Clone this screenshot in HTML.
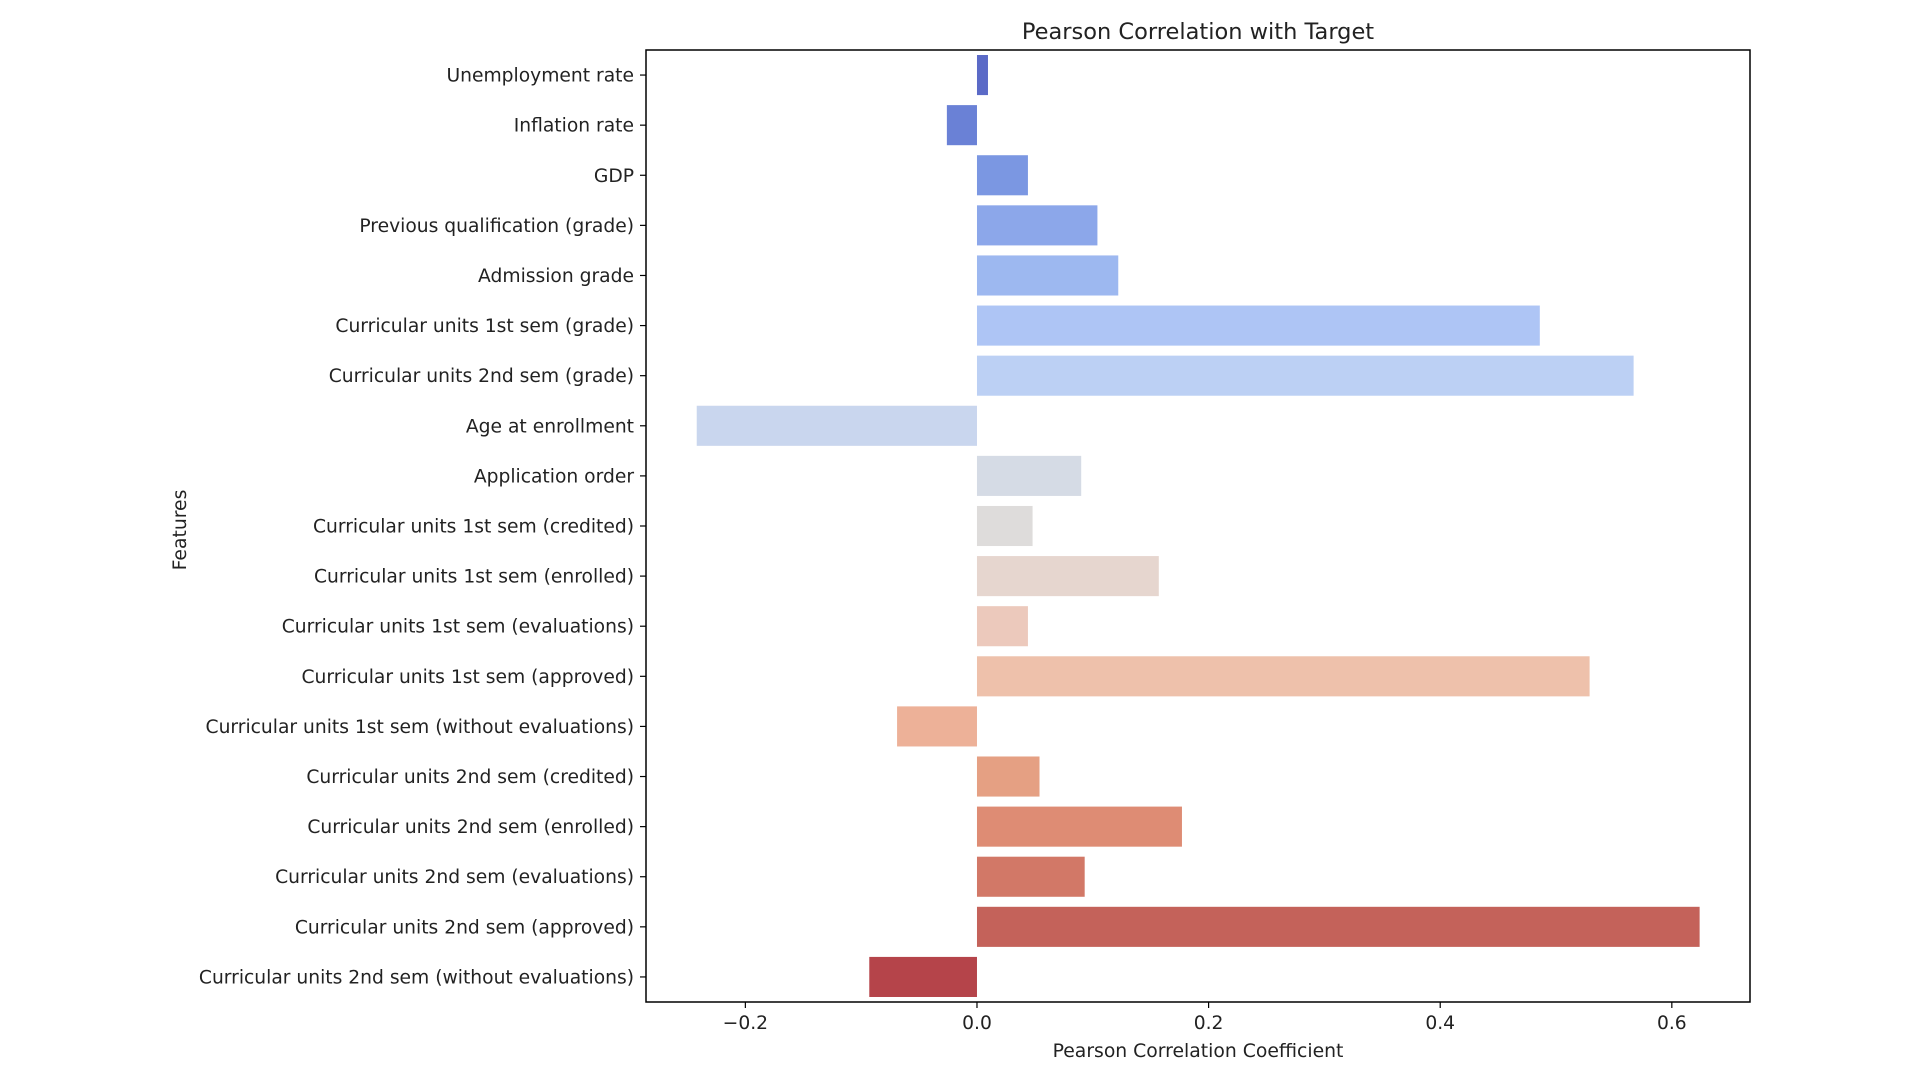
<!DOCTYPE html>
<html><head><meta charset="utf-8"><style>
html,body{margin:0;padding:0;background:#fff;}
svg text{font-family:"DejaVu Sans","Liberation Sans",sans-serif;fill:#222;}
</style></head><body>
<svg id="chart" width="1920" height="1080" xmlns="http://www.w3.org/2000/svg">
<rect width="1920" height="1080" fill="#fff"/>
<g id="bars"></g>
<g id="yticks"></g>
<g id="xticks"></g>
<rect x="646" y="50" width="1104" height="952" fill="none" stroke="#000" stroke-width="1.5"/>
<text x="1198" y="39" font-size="22.5" text-anchor="middle">Pearson Correlation with Target</text>
<text x="1198" y="1057" font-size="18.8" text-anchor="middle">Pearson Correlation Coefficient</text>
<text x="0" y="0" font-size="18.8" text-anchor="middle" transform="translate(186,530) rotate(-90)">Features</text>
</svg>
<script>
const categories = ["Unemployment rate","Inflation rate","GDP","Previous qualification (grade)","Admission grade","Curricular units 1st sem (grade)","Curricular units 2nd sem (grade)","Age at enrollment","Application order","Curricular units 1st sem (credited)","Curricular units 1st sem (enrolled)","Curricular units 1st sem (evaluations)","Curricular units 1st sem (approved)","Curricular units 1st sem (without evaluations)","Curricular units 2nd sem (credited)","Curricular units 2nd sem (enrolled)","Curricular units 2nd sem (evaluations)","Curricular units 2nd sem (approved)","Curricular units 2nd sem (without evaluations)"];
const values = [0.0095,-0.026,0.044,0.104,0.122,0.486,0.567,-0.242,0.090,0.048,0.157,0.044,0.529,-0.069,0.054,0.177,0.093,0.624,-0.093];
const colors = ['#5b6ac7','#6a81d6','#7b97e2','#8ca7ea','#9db8f0','#aec5f5','#bcd0f4','#c9d6ee','#d5dbe5','#dedcdb','#e6d6cf','#ecc9bc','#eec1ab','#edb198','#e5a083','#de8c74','#d27867','#c4625a','#b5444a'];
const xTicks = [-0.2,0.0,0.2,0.4,0.6];
const xTickLabels = ["\u22120.2","0.0","0.2","0.4","0.6"];

const NS="http://www.w3.org/2000/svg";
const L=646,R=1750,T=50,B=1002;
const xMin=-0.2858,xMax=0.6675;
function xs(v){return L+(v-xMin)/(xMax-xMin)*(R-L);}
const band=(B-T)/categories.length;
function yc(i){return T+(i+0.5)*band;}
function mk(tag,attrs,parent){const e=document.createElementNS(NS,tag);for(const k in attrs)e.setAttribute(k,attrs[k]);parent.appendChild(e);return e;}
const gb=document.getElementById('bars'),gy=document.getElementById('yticks'),gx=document.getElementById('xticks');
categories.forEach((c,i)=>{
  const v=values[i],x0=xs(0),x1=xs(v);
  const r=mk('rect',{x:Math.min(x0,x1),y:yc(i)-band*0.4,width:Math.abs(x1-x0),height:band*0.8,fill:colors[i%colors.length]},gb);
  
  
  const tk=mk('line',{x1:L-6,x2:L,y1:yc(i),y2:yc(i),stroke:'#000','stroke-width':1.2},gy);
  
  
  const t=mk('text',{x:L-12,y:yc(i)+6.5,'font-size':18.7,'text-anchor':'end'},gy);
  t.textContent=c;
  
  
});
xTicks.forEach((v,i)=>{
  const x=xs(v);
  const tk=mk('line',{x1:x,x2:x,y1:B,y2:B+6,stroke:'#000','stroke-width':1.2},gx);
  
  
  const t=mk('text',{x:x,y:B+27,'font-size':18.7,'text-anchor':'middle'},gx);
  t.textContent=xTickLabels[i];
  
  
});
</script>
</body></html>
